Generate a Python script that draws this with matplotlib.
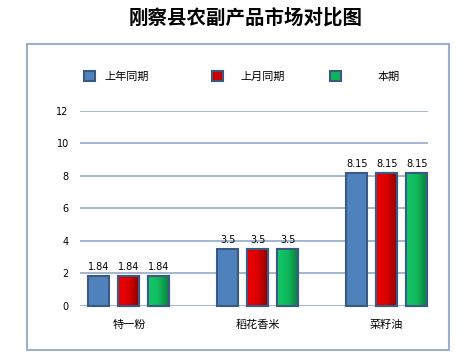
import numpy as np
import matplotlib.pyplot as plt
from matplotlib.patches import Rectangle, Patch
from matplotlib.colors import LinearSegmentedColormap

plt.rcParams['font.family'] = ['Noto Sans CJK SC', 'DejaVu Sans']

categories = ['特一粉', '稻花香米', '菜籽油']
series_names = ['上年同期', '上月同期', '本期']
last_year = [1.84, 3.5, 8.15]
last_month = [1.84, 3.5, 8.15]
current = [1.84, 3.5, 8.15]
yticks = [0, 2, 4, 6, 8, 10, 12]

fill_colors = ['#4f81bd', '#cc0000', '#12b35a']
edge_color = '#3b5a82'
grid_color = '#94aac6'
# horizontal shading for red and green bars (None = flat fill)
shades = [None, ('#f00000', '#d80000', '#8a0000'), ('#14c86a', '#10b85c', '#087a3c')]

fig = plt.figure(figsize=(4.73, 3.62), dpi=100)
ax = fig.add_axes([0.169, 0.155, 0.736, 0.539])

# outer chart border
fig.patches.append(Rectangle((0.057, 0.033), 0.892, 0.845, transform=fig.transFigure,
                             fill=False, edgecolor='#9cb0c9', linewidth=1.5))

x = np.arange(len(categories))
width = 0.163
step = 0.233
grad = np.linspace(0, 1, 64).reshape(1, -1)
for i, (vals, name) in enumerate(zip([last_year, last_month, current], series_names)):
    pos = x + (i - 1) * step
    bars = ax.bar(pos, vals, width, color=fill_colors[i], edgecolor=edge_color,
                  linewidth=1.5, label=name, zorder=3, clip_on=False)
    for b, v in zip(bars, vals):
        if shades[i] is not None:
            cmap = LinearSegmentedColormap.from_list('s', shades[i])
            im = ax.imshow(grad, cmap=cmap, aspect='auto', zorder=3.2,
                           extent=[b.get_x(), b.get_x() + b.get_width(), 0, v])
            # redraw the outline on top of the shading
            ax.add_patch(Rectangle((b.get_x(), 0), b.get_width(), v, fill=False,
                                   edgecolor=edge_color, linewidth=1.5, zorder=3.4,
                                   clip_on=False))
        ax.text(b.get_x() + b.get_width() / 2, v + 0.25, f'{v:g}', ha='center',
                va='bottom', fontsize=7, family='DejaVu Sans')

ax.set_ylim(0, 12)
ax.set_xlim(-0.38, 2.32)
ax.set_yticks(yticks)
ax.set_yticklabels([str(t) for t in yticks], fontsize=7, family='DejaVu Sans')
ax.yaxis.grid(True, color=grid_color, linewidth=1.2, zorder=0)
ax.set_axisbelow(True)
ax.tick_params(axis='y', length=0, pad=8)
ax.tick_params(axis='x', length=0, pad=10)
ax.set_xticks(x)
ax.set_xticklabels(categories, fontsize=8)
for s in ax.spines.values():
    s.set_visible(False)

# legend entries placed individually like the original
leg_x = [0.178, 0.448, 0.698]
leg_pad = [0.8, 1.6, 3.3]
for i, name in enumerate(series_names):
    h = Patch(facecolor=fill_colors[i], edgecolor=edge_color, linewidth=1.5)
    fig.legend(handles=[h], labels=[name], loc='center left',
               bbox_to_anchor=(leg_x[i], 0.79), frameon=False, fontsize=8,
               handlelength=1.0, handleheight=1.0, handletextpad=leg_pad[i],
               borderpad=0, borderaxespad=0)

fig.text(0.52, 0.95, '刚察县农副产品市场对比图', ha='center', va='center',
         fontsize=14, fontweight='bold')

fig.savefig('out.png', dpi=100)
